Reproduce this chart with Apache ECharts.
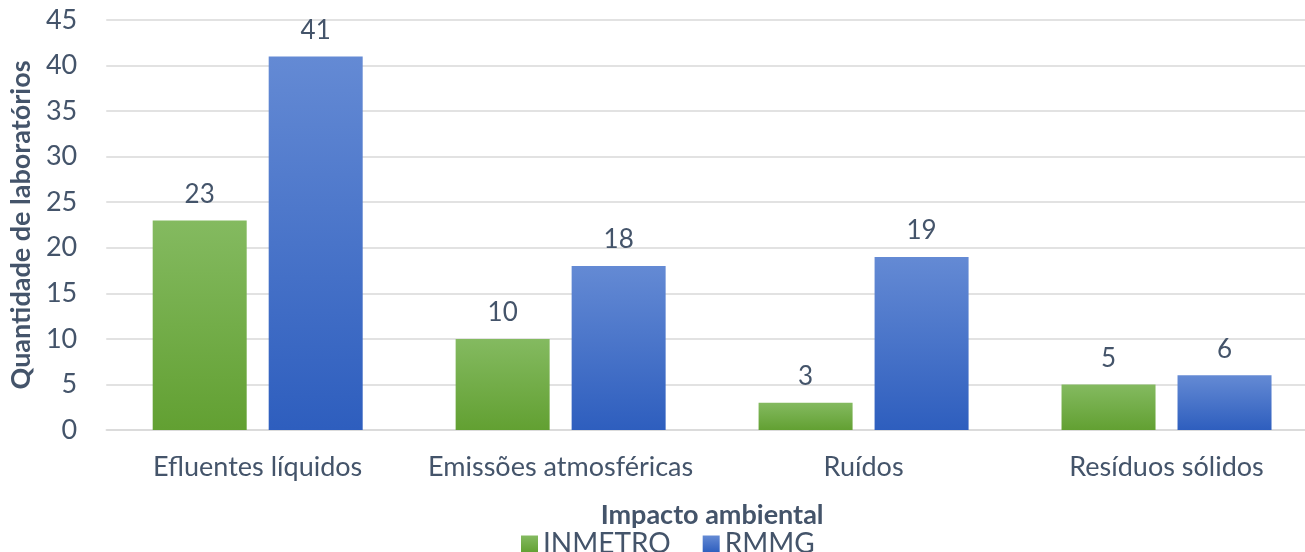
<!DOCTYPE html>
<html>
<head>
<meta charset="utf-8">
<script src="https://cdn.jsdelivr.net/npm/echarts@6/dist/echarts.min.js"></script>
<style>
  html, body { margin: 0; padding: 0; background: #fff; overflow: hidden; }
  /* the plot area runs slightly past the right edge of the window */
  #chart { width: 1318px; height: 552px; }
</style>
</head>
<body>
<div id="chart"></div>
<script>
// Laboratórios por tipo de impacto ambiental
const categories = ['Efluentes líquidos', 'Emissões atmosféricas', 'Ruídos', 'Resíduos sólidos'];
const inmetro = [23, 10, 3, 5];
const rmmg = [41, 18, 19, 6];
const yTicks = { min: 0, max: 45, interval: 5 };

const textColor = '#44546A';
const font = 'Lato, "Open Sans", sans-serif';

function vGrad(top, bottom) {
  return new echarts.graphic.LinearGradient(0, 0, 0, 1, [
    { offset: 0, color: top },
    { offset: 1, color: bottom }
  ]);
}
const greenFill = vGrad('#84BA60', '#62A032');
const blueFill = vGrad('#648AD4', '#2E5EBE');

const labelStyle = {
  show: true,
  position: 'top',
  distance: 13,
  color: textColor,
  fontFamily: font,
  fontSize: 26
};

const chart = echarts.init(document.getElementById('chart'), null, { renderer: 'canvas' });
chart.setOption({
  animation: false,
  textStyle: { fontFamily: font },
  grid: { left: 106, top: 20, right: 0, height: 410, containLabel: false },
  legend: {
    top: 530,
    left: 521,
    padding: 0,
    itemWidth: 17,
    itemHeight: 17,
    itemGap: 32,
    textStyle: { color: textColor, fontFamily: font, fontSize: 28 },
    data: [
      { name: 'INMETRO', icon: 'rect', itemStyle: { color: greenFill } },
      { name: 'RMMG', icon: 'rect', itemStyle: { color: blueFill } }
    ]
  },
  xAxis: {
    type: 'category',
    data: categories,
    name: 'Impacto ambiental',
    nameLocation: 'middle',
    nameGap: 72,
    nameTextStyle: { color: textColor, fontFamily: font, fontSize: 27, fontWeight: 'bold' },
    axisTick: { show: false },
    axisLine: { lineStyle: { color: '#D9D9D9', width: 1.5 } },
    axisLabel: { interval: 0, color: textColor, fontFamily: font, fontSize: 27, margin: 24 }
  },
  yAxis: {
    type: 'value',
    min: yTicks.min,
    max: yTicks.max,
    interval: yTicks.interval,
    name: 'Quantidade de laboratórios',
    nameLocation: 'middle',
    nameGap: 66,
    nameTextStyle: { color: textColor, fontFamily: font, fontSize: 27, fontWeight: 'bold' },
    axisLine: { show: false },
    axisTick: { show: false },
    splitLine: { lineStyle: { color: '#D9D9D9', width: 1.5 } },
    axisLabel: { color: textColor, fontFamily: font, fontSize: 27, margin: 29 }
  },
  series: [
    {
      name: 'INMETRO',
      type: 'bar',
      data: inmetro,
      barWidth: 94,
      barGap: '23.4%',
      itemStyle: { color: greenFill },
      label: labelStyle
    },
    {
      name: 'RMMG',
      type: 'bar',
      data: rmmg,
      barWidth: 94,
      itemStyle: { color: blueFill },
      label: labelStyle
    }
  ]
});
</script>
</body>
</html>
